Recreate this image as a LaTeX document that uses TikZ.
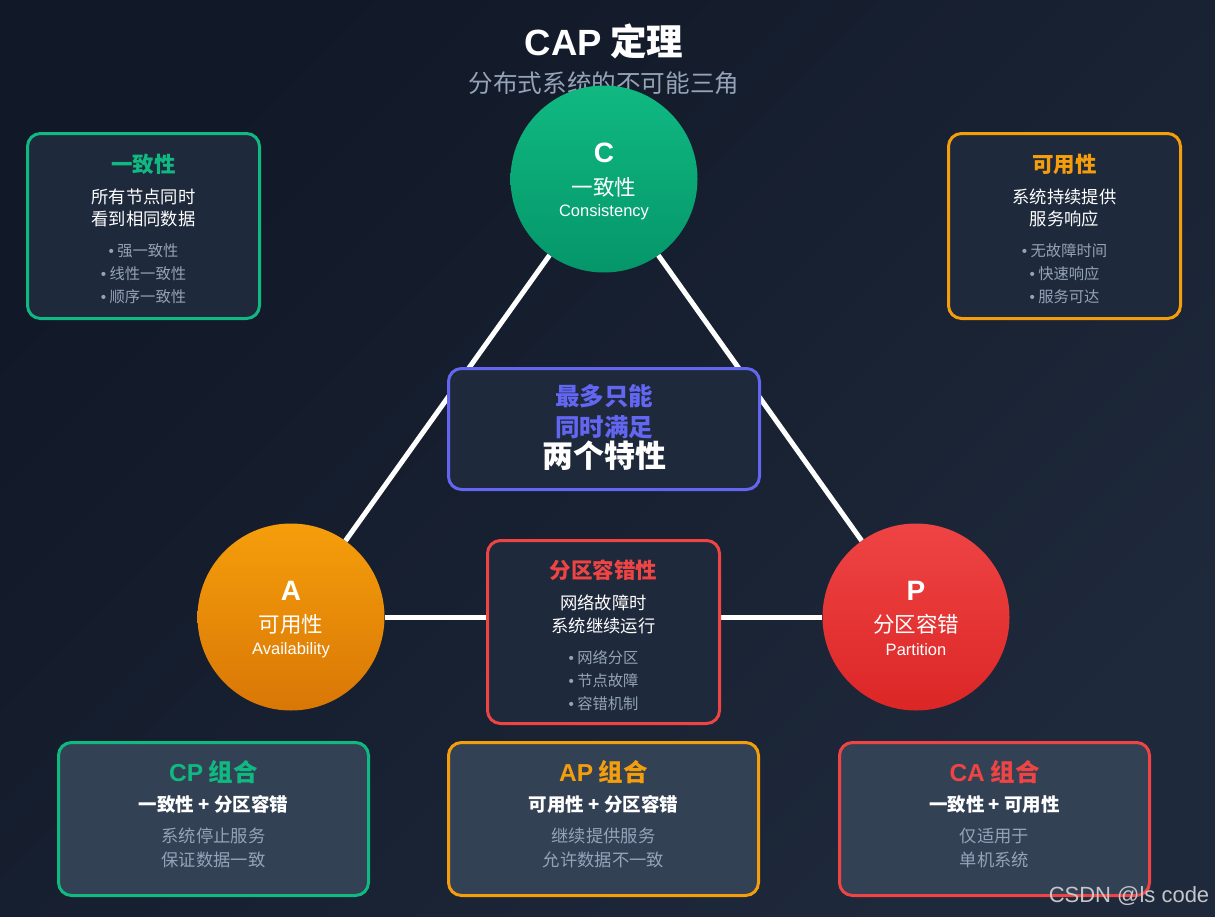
\documentclass[tikz,border=0pt]{standalone}
\usepackage{fontspec}
\setmainfont{Noto Sans CJK SC}
\newfontfamily\latinsf{Liberation Sans}
\usepackage{tikz}
\definecolor{bgtop}{HTML}{111827}
\definecolor{bgbot}{HTML}{1E293B}
\definecolor{card}{HTML}{1E293B}
\definecolor{card2}{HTML}{334155}
\definecolor{muted}{HTML}{94A3B8}
\definecolor{cgreen}{HTML}{10B981}
\definecolor{cgreen2}{HTML}{059669}
\definecolor{corange}{HTML}{F59E0B}
\definecolor{corange2}{HTML}{D97706}
\definecolor{cred}{HTML}{EF4444}
\definecolor{cred2}{HTML}{DC2626}
\definecolor{cindigo}{HTML}{6366F1}
\definecolor{wmark}{HTML}{C4C6CA}
\usetikzlibrary{positioning}
\newcommand{\dotmark}{{\latinsf •}\ }

\begin{document}
\begin{tikzpicture}[x=1pt,y=-1pt,
  every node/.style={inner sep=0pt},
  vertex/.style={circle,minimum size=187pt,shading angle=45},
  link/.style={white,line width=5pt},
  panel/.style={draw,line width=3pt,rounded corners=13pt,fill=card,
    minimum width=232pt,minimum height=185pt},
  combo/.style={panel,fill=card2,minimum width=310pt,minimum height=153pt},
  letter/.style={text=white,font=\latinsf\fontsize{28}{28}\selectfont\bfseries},
  cname/.style={text=white,font=\fontsize{21.5}{21.5}\selectfont},
  ename/.style={text=white,font=\latinsf\fontsize{16.5}{16.5}\selectfont},
  head/.style={font=\fontsize{21.5}{21.5}\selectfont\bfseries},
  desc/.style={text=white,align=center,font=\fontsize{17.3}{22.5}\selectfont},
  items/.style={text=muted,align=center,font=\fontsize{15.3}{23}\selectfont},
  combohead/.style={font=\fontsize{24.5}{24.5}\selectfont\bfseries},
  pair/.style={text=white,font=\fontsize{18.5}{18.5}\selectfont\bfseries},
  note/.style={text=muted,align=center,font=\fontsize{17.3}{24}\selectfont}
]
\useasboundingbox (0,0) rectangle (1215,916);
\shade[top color=bgtop,bottom color=bgbot,shading angle=45] (0,0) rectangle (1215,916);

% heading
\node[text=white,font=\fontsize{36.5}{36.5}\selectfont\bfseries] (title) at (604,41) {{\latinsf CAP} 定理};
\node[text=muted,font=\fontsize{24.6}{24.6}\selectfont] (subtitle) at (604,83) {分布式系统的不可能三角};

% the three properties
\node[vertex,top color=cgreen,bottom color=cgreen2] (cc) at (604,179) {};
\node[vertex,top color=corange,bottom color=corange2] (ca) at (291,617) {};
\node[vertex,top color=cred,bottom color=cred2] (cp) at (916,617) {};

\node[letter] (cletter) at ([yshift=26pt]cc.center) {C};
\node[cname] (cname) at ([yshift=-8pt]cc.center) {一致性};
\node[ename] (cename) at ([yshift=-33pt]cc.center) {Consistency};
\node[letter] (aletter) at ([yshift=26pt]ca.center) {A};
\node[cname] (aname) at ([yshift=-7pt]ca.center) {可用性};
\node[ename] (aename) at ([yshift=-33pt]ca.center) {Availability};
\node[letter] (pletter) at ([yshift=26pt]cp.center) {P};
\node[cname] (pname) at ([yshift=-7pt]cp.center) {分区容错};
\node[ename] (pename) at ([yshift=-33pt]cp.center) {Partition};

\draw[link] (cc) -- (ca);
\draw[link] (cc) -- (cp);
\draw[link] (ca) -- (cp);

% detail panels
\node[panel,draw=cgreen] (consbox) at (143.5,226) {};
\node[head,text=cgreen] (conshead) at (143.5,164) {一致性};
\node[desc] (consdesc) at (143.5,208) {所有节点同时\\看到相同数据};
\node[items] (consitems) at (143.5,274) {\dotmark 强一致性\\\dotmark 线性一致性\\\dotmark 顺序一致性};

\node[panel,draw=corange] (availbox) at (1064.5,226) {};
\node[head,text=corange] (availhead) at (1064.5,164) {可用性};
\node[desc] (availdesc) at (1064.5,208) {系统持续提供\\服务响应};
\node[items] (availitems) at (1064.5,274) {\dotmark 无故障时间\\\dotmark 快速响应\\\dotmark 服务可达};

\node[panel,draw=cindigo,minimum width=311pt,minimum height=121pt] (midbox) at (604,429) {};
\node[text=cindigo,align=center,font=\fontsize{24.5}{31}\selectfont\bfseries] (midtop) at (604,412) {最多只能\\同时满足};
\node[text=white,font=\fontsize{31}{31}\selectfont\bfseries] (midbot) at (604,456) {两个特性};

\node[panel,draw=cred,minimum height=183pt] (partbox) at (603.5,632) {};
\node[head,text=cred] (parthead) at (603.5,570) {分区容错性};
\node[desc] (partdesc) at (603.5,614.5) {网络故障时\\系统继续运行};
\node[items] (partitems) at (603.5,681) {\dotmark 网络分区\\\dotmark 节点故障\\\dotmark 容错机制};

% pairs
\node[combo,draw=cgreen] (cpbox) at (213.5,819) {};
\node[combohead,text=cgreen] (cphead) at (213.5,772) {{\latinsf CP} 组合};
\node[pair] (cppair) at (213.5,804) {一致性 + 分区容错};
\node[note] (cpnote) at (213.5,848) {系统停止服务\\保证数据一致};

\node[combo,draw=corange] (apbox) at (603.5,819) {};
\node[combohead,text=corange] (aphead) at (603.5,772) {{\latinsf AP} 组合};
\node[pair] (appair) at (603.5,804) {可用性 + 分区容错};
\node[note] (apnote) at (603.5,848) {继续提供服务\\允许数据不一致};

\node[combo,draw=cred] (cabox) at (994.5,819) {};
\node[combohead,text=cred] (cahead) at (994.5,772) {{\latinsf CA} 组合};
\node[pair] (capair) at (994.5,804) {一致性 + 可用性};
\node[note] (canote) at (994.5,848) {仅适用于\\单机系统};

\node[text=wmark,font=\latinsf\fontsize{22}{22}\selectfont] (wmark) at (1129,896) {CSDN @ls code};
\end{tikzpicture}
\end{document}
